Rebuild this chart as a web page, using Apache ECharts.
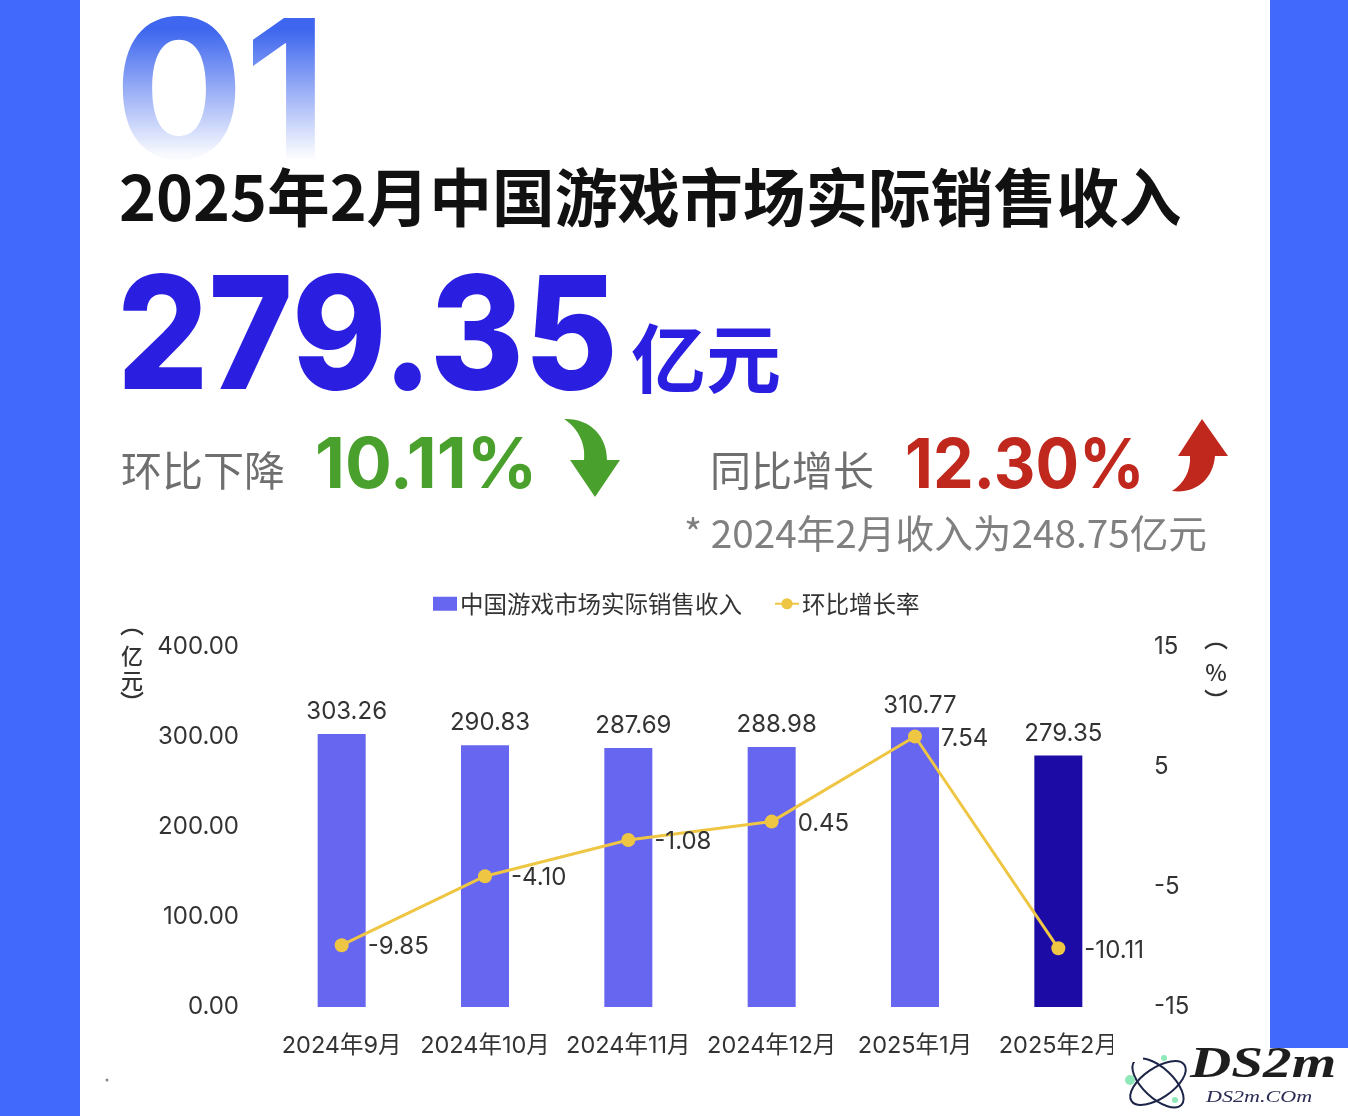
<!DOCTYPE html>
<html>
<head>
<meta charset="utf-8">
<style>
    html, body { margin: 0; padding: 0; background: #fff; }
    #chart { width: 1348px; height: 1116px; }
</style>
<script src="https://cdn.jsdelivr.net/npm/echarts@6/dist/echarts.min.js"></script>
</head>
<body>
<div id="chart"></div>
<script>
const months = ['2024年9月', '2024年10月', '2024年11月', '2024年12月', '2025年1月', '2025年2月'];
const revenue = [303.26, 290.83, 287.69, 288.98, 310.77, 279.35];
const momRate = [-9.85, -4.10, -1.08, 0.45, 7.54, -10.11];
const rateTicks = [-15, -5, 5, 15];

const seriesNames = ['中国游戏市场实际销售收入', '环比增长率'];

const cjk = '"Noto Sans CJK SC", sans-serif';
const num = 'Inter, "Noto Sans CJK SC", sans-serif';
const serif = '"Liberation Serif", serif';
const blue = '#4169fb';
const indigo = '#2a1ee0';
const grey = '#6f6f6f';
const ink = '#333333';

// 箭头
echarts.graphic.registerShape('arrowDown', echarts.graphic.extendPath(
    'M564 419 C590 418 607 436 607 460 L620 460 L595 497 L570 460 L584 460 C586 444 578 428 564 419 Z'));
echarts.graphic.registerShape('arrowUp', echarts.graphic.extendPath(
    'M1202 419 L1228 456 L1215 456 C1213 480 1195 494 1172 491 C1184 484 1191 470 1190 456 L1178 456 Z'));

// 文字
function label(text, x, y, size, color, weight, family, scaleX) {
    return {
        type: 'text', z: 10, x: x, y: y, scaleX: scaleX || 1,
        style: {
            text: text, fill: color, textVerticalAlign: 'middle',
            font: (weight || 400) + ' ' + size + 'px ' + (family || num)
        }
    };
}

// 竖排单位
function unit(text, x, y, size) {
    return {
        type: 'text', z: 10, x: x, y: y,
        style: { text: text, fill: ink, align: 'center', verticalAlign: 'middle', font: '500 ' + size + 'px ' + cjk, lineHeight: 25 }
    };
}

const decorations = [
    // 背景
    { type: 'rect', z: -10, shape: { x: 0, y: 0, width: 80, height: 1116 }, style: { fill: blue } },
    { type: 'rect', z: -10, shape: { x: 1270, y: 0, width: 78, height: 1048 }, style: { fill: blue } },

    // 01 渐变
    label('01', 114, 100, 193, '#3e66ee', 700),
    {
        type: 'rect', z: 11, shape: { x: 100, y: 10, width: 240, height: 160 },
        style: {
            fill: new echarts.graphic.LinearGradient(0, 0, 0, 1, [
                { offset: 0, color: 'rgba(255,255,255,0)' },
                { offset: 0.12, color: 'rgba(255,255,255,0)' },
                { offset: 0.9, color: 'rgba(255,255,255,0.96)' },
                { offset: 1, color: 'rgba(255,255,255,1)' }
            ])
        }
    },

    // 标题
    Object.assign(label('2025年2月中国游戏市场实际销售收入', 119, 197, 62.7, '#111111', 700, cjk), { z: 12 }),
    label('279.35', 117, 342, 157, indigo, 800, num, 0.915),
    label('亿元', 631, 358, 75, indigo, 700, cjk),

    label('环比下降', 121, 470, 41, grey, 400, cjk),
    label('10.11%', 315, 467, 69.5, '#4aa02c', 700),
    { type: 'arrowDown', z: 10, shape: {}, style: { fill: '#4aa02c' } },

    label('同比增长', 710, 470, 41, grey, 400, cjk),
    label('12.30%', 905, 467, 69, '#c0281e', 700, num, 0.937),
    { type: 'arrowUp', z: 10, shape: {}, style: { fill: '#c0281e' } },

    label('* 2024年2月收入为248.75亿元', 684, 533, 38.7, '#808080', 400, cjk),

    // 单位
    unit('︵', 132, 624, 24),
    unit('亿\n元', 132, 668, 22),
    unit('︶', 132, 703, 24),
    unit('︵', 1216, 638, 24),
    unit('%', 1216, 672, 23),
    unit('︶', 1216, 701, 24),

    // 最后一个月份被截断
    { type: 'rect', z: 100, shape: { x: 1113, y: 1028, width: 30, height: 34 }, style: { fill: '#fff' } },

    { type: 'circle', z: 10, shape: { cx: 107, cy: 1080, r: 1.5 }, style: { fill: '#888' } },

    // 水印
    { type: 'ellipse', z: 10, x: 1158, y: 1083, rotation: 0.6, shape: { cx: 0, cy: 0, rx: 32, ry: 15 }, style: { fill: 'none', stroke: '#1d2548', lineWidth: 2 } },
    { type: 'ellipse', z: 10, x: 1158, y: 1083, rotation: -0.75, shape: { cx: 0, cy: 0, rx: 32, ry: 15 }, style: { fill: 'none', stroke: '#1d2548', lineWidth: 2 } },
    { type: 'circle', z: 10, shape: { cx: 1130, cy: 1080, r: 5 }, style: { fill: '#8fe8b8' } },
    { type: 'circle', z: 10, shape: { cx: 1164, cy: 1058, r: 3 }, style: { fill: '#8fe8b8' } },
    { type: 'circle', z: 10, shape: { cx: 1175, cy: 1100, r: 3 }, style: { fill: '#8fe8b8' } },
    label('DS2m', 1190, 1066, 44, '#1e1e1e', 'italic 700', serif, 1.3),
    label('DS2m.COm', 1206, 1098, 17, '#2b2d55', 'italic 400', serif, 1.3)
];

const option = {
    animation: false,
    textStyle: { fontFamily: num },
    legend: {
        data: [{ name: seriesNames[0], icon: 'rect' }, { name: seriesNames[1] }],
        left: 428,
        top: 587,
        itemWidth: 24,
        itemHeight: 14,
        itemGap: 32,
        textStyle: { fontFamily: cjk, fontSize: 23.5, color: ink, padding: [0, 0, 0, -2] }
    },
    grid: { left: 270, right: 218, top: 647, bottom: 109 },
    xAxis: {
        type: 'category',
        data: months,
        axisLine: { show: false },
        axisTick: { show: false },
        axisLabel: { fontSize: 23.5, color: ink, margin: 27, fontFamily: num, interval: 0 }
    },
    yAxis: [
        {
            type: 'value', min: 0, max: 400, interval: 100,
            axisLine: { show: false },
            axisTick: { show: false },
            splitLine: { show: false },
            axisLabel: { fontSize: 24, color: ink, margin: 31, formatter: v => v.toFixed(2) }
        },
        {
            type: 'value', min: -15, max: 15, interval: 5,
            axisLine: { show: false },
            axisTick: { show: false },
            splitLine: { show: false },
            axisLabel: { fontSize: 24, color: ink, margin: 24, customValues: rateTicks }
        }
    ],
    series: [
        {
            name: seriesNames[0],
            type: 'bar',
            barWidth: 48,
            data: revenue.map((v, i) => ({
                value: v,
                itemStyle: { color: i === revenue.length - 1 ? '#1d0ba6' : '#6666f0' }
            })),
            itemStyle: { color: '#6666f0' },
            label: {
                show: true, position: 'top', distance: 10, offset: [5, 0],
                fontSize: 24, color: ink, formatter: p => p.value.toFixed(2)
            }
        },
        {
            name: seriesNames[1],
            type: 'line',
            yAxisIndex: 1,
            data: momRate,
            symbol: 'circle',
            symbolSize: 14,
            z: 5,
            lineStyle: { color: '#eec644', width: 3 },
            itemStyle: { color: '#eec644' },
            label: {
                show: true, position: 'right', distance: 19, offset: [0, 2],
                fontSize: 24, color: ink, formatter: p => p.value.toFixed(2)
            }
        }
    ],
    graphic: { elements: decorations }
};

const chart = echarts.init(document.getElementById('chart'));
chart.setOption(option);
</script>
</body>
</html>
